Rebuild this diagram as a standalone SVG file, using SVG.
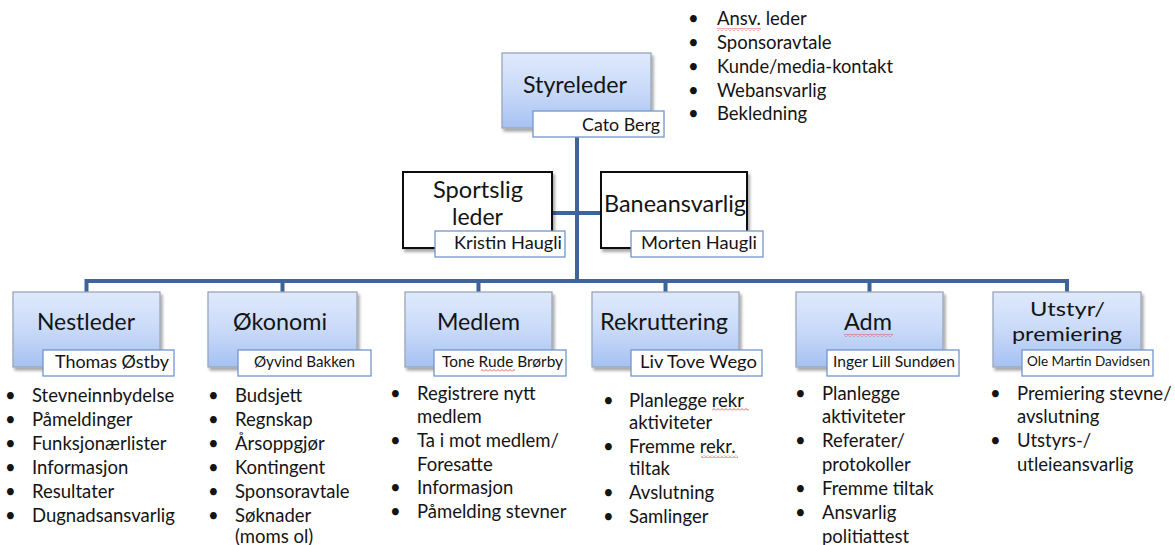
<svg xmlns="http://www.w3.org/2000/svg" width="1175" height="545" viewBox="0 0 1175 545">
<style>
text{font-family:Lato,"Liberation Sans",sans-serif;fill:#141414}
.t{font-size:23px}
.t2{font-size:20px}
.n{font-size:17px}
.l{font-size:18.5px}
.box{fill:url(#g);stroke:#9ba6b9;stroke-width:1.3}
.wbox{fill:#fff;stroke:#111;stroke-width:2}
.name{fill:#fff;stroke:#7296cc;stroke-width:1.3}
.con{stroke:#3f6499;stroke-width:4;fill:none}
.sq{fill:url(#sq)}
</style>
<defs>
<linearGradient id="g" x1="0" y1="0" x2="0" y2="1">
<stop offset="0" stop-color="#dfe9fc"/>
<stop offset="0.5" stop-color="#c9daf8"/>
<stop offset="1" stop-color="#a6c1f2"/>
</linearGradient>
<filter id="sh" x="-10%" y="-10%" width="125%" height="130%">
<feGaussianBlur in="SourceAlpha" stdDeviation="1.5"/>
<feOffset dx="2" dy="2.5"/>
<feComponentTransfer><feFuncA type="linear" slope="0.35"/></feComponentTransfer>
<feMerge><feMergeNode/><feMergeNode in="SourceGraphic"/></feMerge>
</filter>
<pattern id="sq" width="4" height="3" patternUnits="userSpaceOnUse">
<path d="M0,2.5 L2,0.5 L4,2.5" stroke="#e03030" stroke-width="0.8" fill="none"/>
</pattern>
</defs>

<g id="connectors">
<path class="con" d="M577,137 V281"/>
<path class="con" d="M552,213 H601"/>
<path class="con" d="M86.5,292 V281 H1067 V292"/>
<path class="con" d="M282.5,281 V292 M478.5,281 V292 M665.5,281 V292 M869.5,281 V292"/>
</g>

<g id="styreleder">
<rect class="box" x="502" y="53" width="149" height="75" filter="url(#sh)"/>
<text class="t" x="523" y="93" textLength="104" lengthAdjust="spacingAndGlyphs">Styreleder</text>
<rect class="name" x="533" y="111" width="131" height="26"/>
<text class="n" x="582" y="131" textLength="78" lengthAdjust="spacingAndGlyphs">Cato Berg</text>
</g>

<g id="styreleder-tasks">
<g class="l">
<text x="688" y="25">•</text><text x="717" y="25">Ansv. leder</text>
<text x="688" y="49">•</text><text x="717" y="49">Sponsoravtale</text>
<text x="688" y="73">•</text><text x="717" y="73" textLength="176" lengthAdjust="spacingAndGlyphs">Kunde/media-kontakt</text>
<text x="688" y="97">•</text><text x="717" y="97">Webansvarlig</text>
<text x="688" y="120">•</text><text x="717" y="120">Bekledning</text>
</g>
<rect class="sq" x="717" y="28" width="44" height="3"/>
</g>

<g id="sportslig-leder">
<rect class="wbox" x="403" y="172" width="149" height="76" filter="url(#sh)"/>
<text class="t" x="433" y="198" textLength="90" lengthAdjust="spacingAndGlyphs">Sportslig</text>
<text class="t" x="452" y="225" textLength="51" lengthAdjust="spacingAndGlyphs">leder</text>
<rect class="name" x="435" y="231" width="130" height="26"/>
<text class="n" x="454" y="249" textLength="108" lengthAdjust="spacingAndGlyphs">Kristin Haugli</text>
</g>

<g id="baneansvarlig">
<rect class="wbox" x="601" y="172" width="146" height="76" filter="url(#sh)"/>
<text class="t" x="604" y="212" textLength="142" lengthAdjust="spacingAndGlyphs">Baneansvarlig</text>
<rect class="name" x="631" y="231" width="132" height="26"/>
<text class="n" x="641" y="249" textLength="116" lengthAdjust="spacingAndGlyphs">Morten Haugli</text>
</g>

<g id="nestleder">
<rect class="box" x="13" y="292" width="147" height="75" filter="url(#sh)"/>
<text class="t" x="37" y="330" textLength="98" lengthAdjust="spacingAndGlyphs">Nestleder</text>
<rect class="name" x="43" y="350" width="131" height="26"/>
<text class="n" x="55" y="368" textLength="114" lengthAdjust="spacingAndGlyphs">Thomas Østby</text>
<g class="l">
<text x="5" y="402">•</text><text x="32" y="402">Stevneinnbydelse</text>
<text x="5" y="426">•</text><text x="32" y="426">Påmeldinger</text>
<text x="5" y="450">•</text><text x="32" y="450">Funksjonærlister</text>
<text x="5" y="474">•</text><text x="32" y="474">Informasjon</text>
<text x="5" y="498">•</text><text x="32" y="498">Resultater</text>
<text x="5" y="522">•</text><text x="32" y="522">Dugnadsansvarlig</text>
</g>
</g>

<g id="okonomi">
<rect class="box" x="208" y="292" width="149" height="75" filter="url(#sh)"/>
<text class="t" x="233" y="330" textLength="94" lengthAdjust="spacingAndGlyphs">Økonomi</text>
<rect class="name" x="238" y="350" width="133" height="26"/>
<text x="254" y="367" font-size="15" textLength="101" lengthAdjust="spacingAndGlyphs">Øyvind Bakken</text>
<g class="l">
<text x="208" y="402">•</text><text x="235" y="402">Budsjett</text>
<text x="208" y="426">•</text><text x="235" y="426">Regnskap</text>
<text x="208" y="450">•</text><text x="235" y="450">Årsoppgjør</text>
<text x="208" y="474">•</text><text x="235" y="474">Kontingent</text>
<text x="208" y="498">•</text><text x="235" y="498">Sponsoravtale</text>
<text x="208" y="522">•</text><text x="235" y="522">Søknader</text>
<text x="235" y="543">(moms ol)</text>
</g>
</g>

<g id="medlem">
<rect class="box" x="405" y="292" width="147" height="75" filter="url(#sh)"/>
<text class="t" x="437" y="330" textLength="83" lengthAdjust="spacingAndGlyphs">Medlem</text>
<rect class="name" x="434" y="350" width="132" height="26"/>
<text x="442" y="367" font-size="16" textLength="121" lengthAdjust="spacingAndGlyphs">Tone Rude Brørby</text>
<rect class="sq" x="481" y="369" width="34" height="3"/>
<g class="l">
<text x="390" y="400">•</text><text x="417" y="400">Registrere nytt</text>
<text x="417" y="423">medlem</text>
<text x="390" y="447">•</text><text x="417" y="447">Ta i mot medlem/</text>
<text x="417" y="471">Foresatte</text>
<text x="390" y="494">•</text><text x="417" y="494">Informasjon</text>
<text x="390" y="518">•</text><text x="417" y="518">Påmelding stevner</text>
</g>
</g>

<g id="rekruttering">
<rect class="box" x="592" y="292" width="147" height="75" filter="url(#sh)"/>
<text class="t" x="600" y="330" textLength="128" lengthAdjust="spacingAndGlyphs">Rekruttering</text>
<rect class="name" x="631" y="350" width="131" height="26"/>
<text class="n" x="640" y="368" textLength="117" lengthAdjust="spacingAndGlyphs">Liv Tove Wego</text>
<g class="l">
<text x="603" y="407">•</text><text x="629" y="407">Planlegge rekr</text>
<text x="629" y="429">aktiviteter</text>
<text x="603" y="453">•</text><text x="629" y="453">Fremme rekr.</text>
<text x="629" y="475">tiltak</text>
<text x="603" y="499">•</text><text x="629" y="499">Avslutning</text>
<text x="603" y="523">•</text><text x="629" y="523">Samlinger</text>
</g>
<rect class="sq" x="712" y="408" width="37" height="3"/>
<rect class="sq" x="701" y="455" width="37" height="3"/>
</g>

<g id="adm">
<rect class="box" x="796" y="292" width="147" height="75" filter="url(#sh)"/>
<text class="t" x="844" y="330" textLength="48" lengthAdjust="spacingAndGlyphs">Adm</text>
<rect class="sq" x="844" y="334" width="49" height="3"/>
<rect class="name" x="827" y="350" width="132" height="26"/>
<text x="833" y="367" font-size="16" textLength="122" lengthAdjust="spacingAndGlyphs">Inger Lill Sundøen</text>
<g class="l">
<text x="795" y="400">•</text><text x="822" y="400">Planlegge</text>
<text x="822" y="423">aktiviteter</text>
<text x="795" y="447">•</text><text x="822" y="447">Referater/</text>
<text x="822" y="471">protokoller</text>
<text x="795" y="495">•</text><text x="822" y="495">Fremme tiltak</text>
<text x="795" y="519">•</text><text x="822" y="519">Ansvarlig</text>
<text x="822" y="543">politiattest</text>
</g>
</g>

<g id="utstyr">
<rect class="box" x="993" y="292" width="148" height="75" filter="url(#sh)"/>
<text class="t2" x="1030" y="316" textLength="75" lengthAdjust="spacingAndGlyphs">Utstyr/</text>
<text class="t2" x="1012" y="341" textLength="110" lengthAdjust="spacingAndGlyphs">premiering</text>
<rect class="name" x="1022" y="350" width="131" height="26"/>
<text x="1027" y="366" font-size="14" textLength="123" lengthAdjust="spacingAndGlyphs">Ole Martin Davidsen</text>
<g class="l">
<text x="990" y="400">•</text><text x="1017" y="400">Premiering stevne/</text>
<text x="1017" y="423">avslutning</text>
<text x="990" y="447">•</text><text x="1017" y="447">Utstyrs-/</text>
<text x="1017" y="471">utleieansvarlig</text>
</g>
</g>
</svg>
